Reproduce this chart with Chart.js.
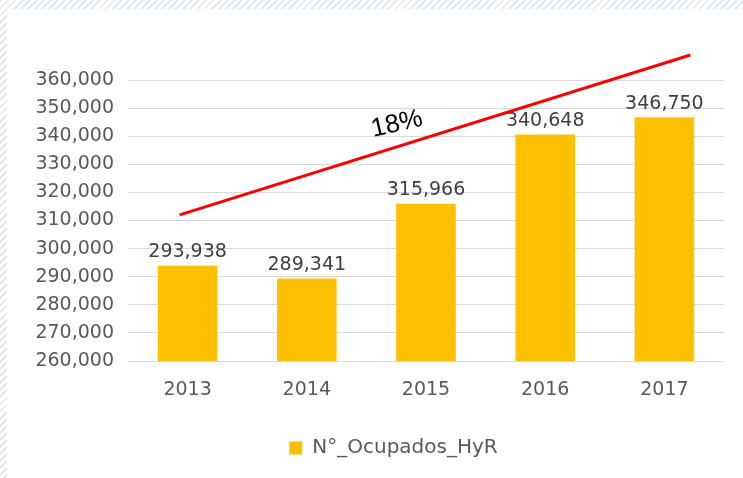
<!DOCTYPE html>
<html>
<head>
<meta charset="utf-8">
<script src="https://cdn.jsdelivr.net/npm/chart.js@4.4.1/dist/chart.umd.min.js"></script>
<style>
  html, body { margin: 0; padding: 0; }
  body {
    width: 743px; height: 478px; overflow: hidden;
    background: repeating-linear-gradient(135deg, #dfe9f1 0px, #dfe9f1 2px, #ffffff 2px, #ffffff 5px);
  }
  #panel { position: absolute; left: 7px; top: 9px; width: 736px; height: 469px; background: #fff; }
</style>
</head>
<body>
<div id="panel"><canvas id="hyrChart" width="736" height="469"></canvas></div>
<script>
// data
const years = ["2013", "2014", "2015", "2016", "2017"];
const ocupados = [293938, 289341, 315966, 340648, 346750];
const seriesName = "N°_Ocupados_HyR";
const yMin = 260000, yMax = 360000, yStep = 10000;

// trend annotation (in axis units: category index, value)
const trendFrom = [-0.067, 312000];
const trendTo = [4.218, 368900];
const trendLabel = "18%";
const trendLabelAt = [1.756, 344300];

const fmt = (v) => v.toLocaleString("en-US");

const valueLabels = {
  id: "valueLabels",
  afterDatasetsDraw(chart) {
    const ctx = chart.ctx;
    const meta = chart.getDatasetMeta(0);
    ctx.save();
    ctx.font = "19px 'DejaVu Sans'";
    ctx.fillStyle = "#404040";
    ctx.textAlign = "center";
    ctx.textBaseline = "bottom";
    meta.data.forEach((bar, i) => {
      ctx.fillText(fmt(ocupados[i]), bar.x, bar.y - 4);
    });
    ctx.restore();
  }
};

const trendLine = {
  id: "trendLine",
  afterDraw(chart) {
    const x = chart.scales.x, y = chart.scales.y;
    const ctx = chart.ctx;
    ctx.save();
    ctx.strokeStyle = "#ff0000";
    ctx.lineWidth = 3;
    ctx.beginPath();
    ctx.moveTo(x.getPixelForValue(trendFrom[0]), y.getPixelForValue(trendFrom[1]));
    ctx.lineTo(x.getPixelForValue(trendTo[0]), y.getPixelForValue(trendTo[1]));
    ctx.stroke();

    ctx.translate(x.getPixelForValue(trendLabelAt[0]), y.getPixelForValue(trendLabelAt[1]));
    ctx.rotate(-13 * Math.PI / 180);
    ctx.font = "26px 'Liberation Sans'";
    ctx.fillStyle = "#000";
    ctx.textAlign = "center";
    ctx.textBaseline = "middle";
    ctx.fillText(trendLabel, 0, 0);
    ctx.restore();
  }
};

// legend sits a little right of centre in the original
const nudgeLegend = {
  id: "nudgeLegend",
  afterLayout(chart) {
    chart.legend.left += 14;
    chart.legend.right += 14;
  }
};

new Chart(document.getElementById("hyrChart"), {
  type: "bar",
  data: {
    labels: years,
    datasets: [{
      label: seriesName,
      data: ocupados,
      backgroundColor: "#ffc000",
      categoryPercentage: 1,
      barPercentage: 0.5
    }]
  },
  options: {
    responsive: false,
    animation: false,
    layout: { padding: { left: 28, right: 19, top: 71, bottom: 10 } },
    plugins: {
      legend: {
        position: "bottom",
        labels: {
          font: { family: "DejaVu Sans", size: 20 },
          color: "#595959",
          boxWidth: 13,
          boxHeight: 13,
          padding: 10
        }
      },
      tooltip: { enabled: false }
    },
    scales: {
      x: {
        grid: { display: false },
        border: { display: false },
        ticks: { font: { family: "DejaVu Sans", size: 19 }, color: "#595959", padding: 10 },
        afterFit: (s) => { s.height = 67; }
      },
      y: {
        min: yMin,
        max: yMax,
        border: { display: false },
        grid: { color: "#d9d9d9", drawTicks: false },
        ticks: {
          stepSize: yStep,
          font: { family: "DejaVu Sans", size: 19 },
          color: "#595959",
          padding: 14,
          callback: (v) => fmt(v)
        },
        afterFit: (s) => { s.width = 93; }
      }
    }
  },
  plugins: [valueLabels, trendLine, nudgeLegend]
});
</script>
</body>
</html>
